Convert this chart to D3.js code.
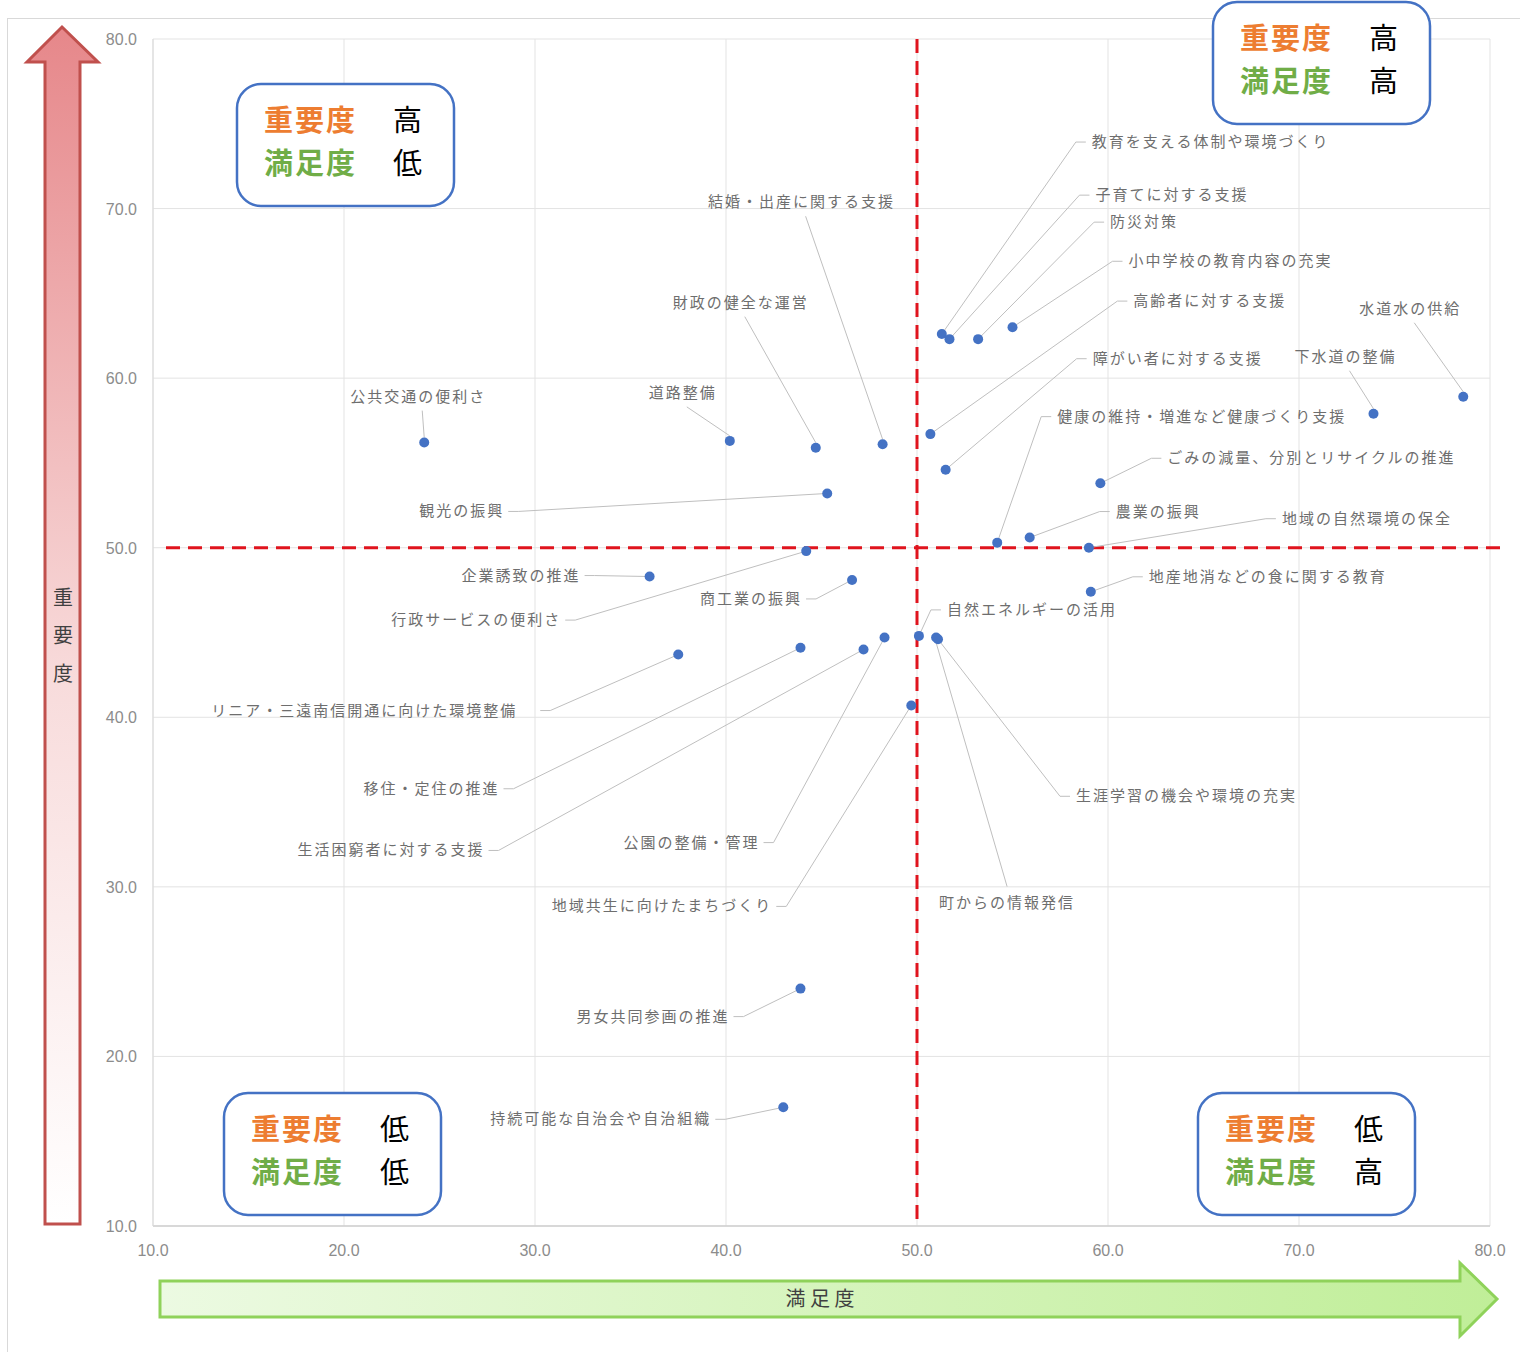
<!DOCTYPE html>
<html>
<head>
<meta charset="utf-8">
<script src="https://cdn.jsdelivr.net/npm/d3@7.9.0/dist/d3.min.js"></script>
<style>
  body { margin: 0; background: #fff; }
  svg { display: block; }
  .lbl { font-family: "Noto Sans CJK JP", sans-serif; font-size: 15px; fill: #6e6e6e; letter-spacing: 2px; }
  .tick { font-family: "Liberation Sans", sans-serif; font-size: 16px; fill: #8c8c8c; }
</style>
</head>
<body>
<svg id="chart" width="1520" height="1352"></svg>
<script>
// ---------------------------------------------------------------------------
// data: item names, satisfaction (x) and importance (y)
// ---------------------------------------------------------------------------
const items = [
  '教育を支える体制や環境づくり', '子育てに対する支援', '防災対策', '小中学校の教育内容の充実',
  '高齢者に対する支援', '障がい者に対する支援', '健康の維持・増進など健康づくり支援', '農業の振興',
  '地域の自然環境の保全', 'ごみの減量、分別とリサイクルの推進', '下水道の整備', '水道水の供給',
  '地産地消などの食に関する教育', '自然エネルギーの活用', '生涯学習の機会や環境の充実', '町からの情報発信',
  '公共交通の便利さ', '道路整備', '財政の健全な運営', '結婚・出産に関する支援',
  '観光の振興', '行政サービスの便利さ', '企業誘致の推進', '商工業の振興',
  'リニア・三遠南信開通に向けた環境整備', '移住・定住の推進', '生活困窮者に対する支援', '公園の整備・管理',
  '地域共生に向けたまちづくり', '男女共同参画の推進', '持続可能な自治会や自治組織'
];
const satisfaction = [
  51.3, 51.7, 53.2, 55.0,
  50.7, 51.5, 54.2, 55.9,
  59.0, 59.6, 73.9, 78.6,
  59.1, 50.1, 51.1, 51.0,
  24.2, 40.2, 44.7, 48.2,
  45.3, 44.2, 36.0, 46.6,
  37.5, 43.9, 47.2, 48.3,
  49.7, 43.9, 43.0
];
const importance = [
  62.6, 62.3, 62.3, 63.0,
  56.7, 54.6, 50.3, 50.6,
  50.0, 53.8, 57.9, 58.9,
  47.4, 44.8, 44.6, 44.7,
  56.2, 56.3, 55.9, 56.1,
  53.2, 49.8, 48.3, 48.1,
  43.7, 44.1, 44.0, 44.7,
  40.7, 24.0, 17.0
];

const xTicks = [10, 20, 30, 40, 50, 60, 70, 80];
const yTicks = [10, 20, 30, 40, 50, 60, 70, 80];
const xTitle = '満 足 度';
const yTitle = ['重', '要', '度'];
const midValue = 50;

// quadrant boxes: importance level, satisfaction level
const quadrantImp = ['高', '高', '低', '低'];
const quadrantSat = ['低', '高', '低', '高'];

// ---------------------------------------------------------------------------
// layout (pixels): label offset from point, anchor, leader gap
// ---------------------------------------------------------------------------
const labelLayout = [
  [150, -192, 'start'], [146, -144, 'start'], [132, -117, 'start'], [116, -66, 'start'],
  [203, -133, 'start'], [147, -111, 'start'], [60, -126, 'start'], [86, -26, 'start'],
  [193, -29, 'start'], [67, -25, 'start'], [-28, -57, 'above'], [-53, -88, 'above'],
  [58, -15, 'start'], [28, -26, 'start'], [138, 157, 'start'], [71, 265, 'below'],
  [-6, -46, 'above'], [-47, -48, 'above'], [-75, -145, 'above'], [-81, -242, 'above'],
  [-325, 18, 'end'], [-247, 69, 'end'], [-71, -1, 'end'], [-52, 19, 'end'],
  [-163, 56, 'end', 25], [-303, 141, 'end'], [-381, 201, 'end'], [-127, 205, 'end'],
  [-141, 201, 'end'], [-73, 28, 'end'], [-74, 12, 'end']
];
const boxLayout = [[237, 84], [1213, 2], [224, 1093], [1198, 1093]];

const svg = d3.select('#chart');
const x = d3.scaleLinear().domain([10, 80]).range([153, 1490]);
const y = d3.scaleLinear().domain([10, 80]).range([1226, 39]);

// outer chart border
svg.append('rect')
  .attr('x', 7.5).attr('y', 18.5).attr('width', 1540).attr('height', 1360)
  .attr('fill', 'none').attr('stroke', '#d9d9d9').attr('stroke-width', 1);

// gradients
const defs = svg.append('defs');
const redGrad = defs.append('linearGradient').attr('id', 'redGrad')
  .attr('x1', 0).attr('y1', 0).attr('x2', 0).attr('y2', 1);
redGrad.append('stop').attr('offset', '0%').attr('stop-color', '#e6878a');
redGrad.append('stop').attr('offset', '55%').attr('stop-color', '#f8dcdc');
redGrad.append('stop').attr('offset', '100%').attr('stop-color', '#ffffff');
const greenGrad = defs.append('linearGradient').attr('id', 'greenGrad')
  .attr('x1', 0).attr('y1', 0).attr('x2', 1).attr('y2', 0);
greenGrad.append('stop').attr('offset', '0%').attr('stop-color', '#ecfae2');
greenGrad.append('stop').attr('offset', '100%').attr('stop-color', '#c0ee98');

// gridlines
svg.append('g').selectAll('line').data(xTicks).join('line')
  .attr('x1', d => x(d)).attr('x2', d => x(d))
  .attr('y1', y(80)).attr('y2', y(10))
  .attr('stroke', '#e3e3e3').attr('stroke-width', 1);
svg.append('g').selectAll('line').data(yTicks).join('line')
  .attr('x1', x(10)).attr('x2', x(80))
  .attr('y1', d => y(d)).attr('y2', d => y(d))
  .attr('stroke', '#e3e3e3').attr('stroke-width', 1);
// axis lines
svg.append('line').attr('x1', x(10)).attr('x2', x(80)).attr('y1', y(10)).attr('y2', y(10))
  .attr('stroke', '#cfcfcf').attr('stroke-width', 1.5);
svg.append('line').attr('x1', x(10)).attr('x2', x(10)).attr('y1', y(80)).attr('y2', y(10))
  .attr('stroke', '#d9d9d9').attr('stroke-width', 1);

// tick labels
svg.append('g').selectAll('text').data(xTicks).join('text')
  .attr('class', 'tick').attr('x', d => x(d)).attr('y', 1256)
  .attr('text-anchor', 'middle').text(d => d.toFixed(1));
svg.append('g').selectAll('text').data(yTicks).join('text')
  .attr('class', 'tick').attr('x', 137).attr('y', d => y(d) + 6)
  .attr('text-anchor', 'end').text(d => d.toFixed(1));

// red dashed reference lines at 50
svg.append('line')
  .attr('x1', x(midValue)).attr('x2', x(midValue)).attr('y1', y(80)).attr('y2', y(10))
  .attr('stroke', '#e0141e').attr('stroke-width', 3).attr('stroke-dasharray', '14 8');
svg.append('line')
  .attr('x1', 166).attr('x2', 1500).attr('y1', y(midValue)).attr('y2', y(midValue))
  .attr('stroke', '#e0141e').attr('stroke-width', 3).attr('stroke-dasharray', '14 8');

// up arrow (importance)
svg.append('path')
  .attr('d', 'M62,27 L98,62 L80,62 L80,1224 L45,1224 L45,62 L27,62 Z')
  .attr('fill', 'url(#redGrad)').attr('stroke', '#c0504d').attr('stroke-width', 3)
  .attr('stroke-linejoin', 'miter');
svg.append('g').selectAll('text').data(yTitle).join('text')
  .attr('x', 63).attr('y', (d, i) => 605 + i * 38)
  .attr('text-anchor', 'middle')
  .style('font-family', '"Noto Sans CJK JP", sans-serif').style('font-size', '20px')
  .attr('fill', '#404040').text(d => d);

// right arrow (satisfaction)
svg.append('path')
  .attr('d', 'M160,1281 L1460,1281 L1460,1263 L1497,1299 L1460,1336 L1460,1317 L160,1317 Z')
  .attr('fill', 'url(#greenGrad)').attr('stroke', '#8fd25a').attr('stroke-width', 3);
svg.append('text')
  .attr('x', 820).attr('y', 1306).attr('text-anchor', 'middle')
  .style('font-family', '"Noto Sans CJK JP", sans-serif').style('font-size', '20px')
  .attr('fill', '#404040').text(xTitle);

// leader lines and labels
const pts = items.map((name, i) => ({
  name,
  px: x(satisfaction[i]),
  py: y(importance[i]),
  dx: labelLayout[i][0],
  dy: labelLayout[i][1],
  pos: labelLayout[i][2],
  gap: labelLayout[i][3] || 6
}));

function leader(d) {
  const lx = d.px + d.dx, ly = d.py + d.dy;
  if (d.pos === 'start') return [[d.px, d.py], [lx - d.gap - 10, ly], [lx - d.gap, ly]];
  if (d.pos === 'end') return [[d.px, d.py], [lx + d.gap + 10, ly], [lx + d.gap, ly]];
  if (d.pos === 'above') return [[d.px, d.py - 5], [lx + 4, ly + 14]];
  return [[d.px, d.py + 5], [lx, ly - 16]];
}

svg.append('g').selectAll('path').data(pts).join('path')
  .attr('d', d => d3.line()(leader(d)))
  .attr('fill', 'none').attr('stroke', '#bfbfbf').attr('stroke-width', 1);

svg.append('g').selectAll('text').data(pts).join('text')
  .attr('class', 'lbl')
  .attr('x', d => d.px + d.dx + (d.pos === 'end' ? 2 : 0))
  .attr('y', d => d.py + d.dy + 5)
  .attr('text-anchor', d => d.pos === 'start' ? 'start' : d.pos === 'end' ? 'end' : 'middle')
  .text(d => d.name);

// points
svg.append('g').selectAll('circle').data(pts).join('circle')
  .attr('cx', d => d.px).attr('cy', d => d.py).attr('r', 5)
  .attr('fill', '#4472c4');

// quadrant boxes
const boxes = svg.append('g').selectAll('g').data(boxLayout).join('g')
  .attr('transform', d => `translate(${d[0]},${d[1]})`);
boxes.append('rect')
  .attr('width', 217).attr('height', 122).attr('rx', 24).attr('ry', 24)
  .attr('fill', '#fff').attr('stroke', '#4472c4').attr('stroke-width', 2.5);
const qFont = '"Noto Sans CJK JP", sans-serif';
function qLine(yPos, label, color, values) {
  boxes.append('text').attr('x', 27).attr('y', yPos)
    .style('font-family', qFont).style('font-size', '29px').style('font-weight', 'bold')
    .style('letter-spacing', '2px').attr('fill', color).text(label);
  boxes.append('text').attr('x', 156).attr('y', yPos)
    .style('font-family', qFont).style('font-size', '29px')
    .attr('fill', '#000').text((d, i) => values[i]);
}
qLine(47, '重要度', '#ed7d31', quadrantImp);
qLine(89.5, '満足度', '#70ad47', quadrantSat);
</script>
</body>
</html>
